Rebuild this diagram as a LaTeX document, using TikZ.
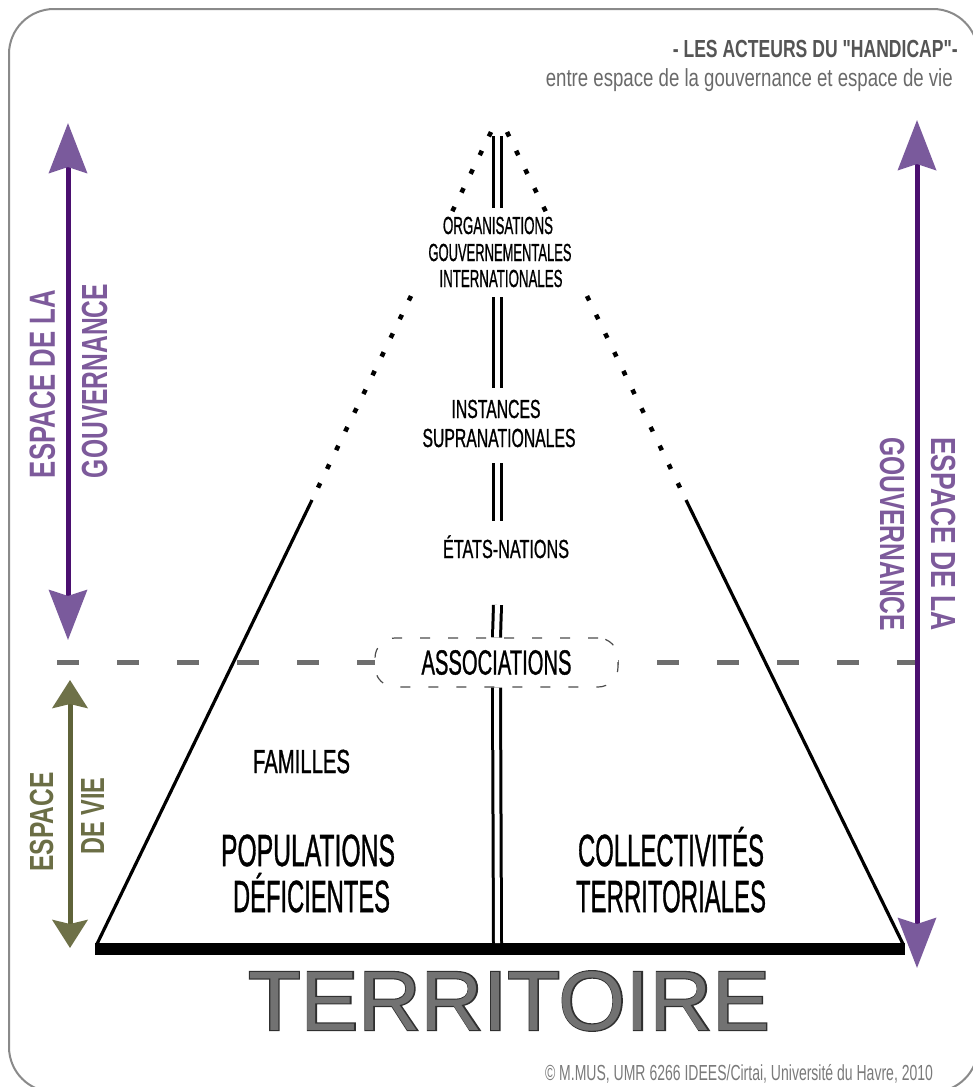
\documentclass[tikz,border=0pt]{standalone}
\usepackage{fontspec}
\usepackage{graphicx}
\setmainfont{Liberation Sans}
\newfontfamily\plainquote{Liberation Sans}[Ligatures=TeXOff]
\newfontfamily\labelfont{Liberation Sans}[FakeBold=1.2]
\newfontfamily\outlinefont{Liberation Sans}[FakeBold=2.6]
\usetikzlibrary{arrows.meta}
\definecolor{purpletext}{HTML}{7D5A9B}
\definecolor{purplehead}{HTML}{7A5A9C}
\definecolor{purpleshaft}{HTML}{4B1070}
\definecolor{olivetext}{HTML}{6B6E45}
\definecolor{olivehead}{HTML}{6E7148}
\definecolor{oliveshaft}{HTML}{5F6339}
\definecolor{framegray}{HTML}{8A8A8A}
\definecolor{dashgray}{HTML}{6E6E6E}
\definecolor{titlegray}{HTML}{555555}
\definecolor{subgray}{HTML}{6A6A6A}
\definecolor{copygray}{HTML}{7A7A7A}
\definecolor{terrgray}{HTML}{727272}
\definecolor{terredge}{HTML}{303030}
\newsavebox\fitA
\newsavebox\fitH
\newcommand\fitcap[3]{\sbox\fitA{#3}\sbox\fitH{H}%
  \pgfmathsetmacro\fitsx{#1/\the\wd\fitA}%
  \pgfmathsetmacro\fitsy{#2/\the\ht\fitH}%
  \scalebox{\fitsx}[\fitsy]{\usebox\fitA}}
\tikzset{
  lbl/.style={inner sep=0pt, anchor=base, text=black, font=\labelfont},
  plainlbl/.style={inner sep=0pt, anchor=base},
  boldlbl/.style={inner sep=0pt, anchor=base, font=\bfseries},
  sidesolid/.style={line width=3.2pt, line cap=butt},
  sidedot/.style={line width=4.5pt, dash pattern=on 5pt off 15.8pt},
  midline/.style={draw=black, line width=3pt, double=white, double distance=5pt},
  hdash/.style={draw=dashgray, line width=5pt, dash pattern=on 22pt off 38pt},
  assoc/.style={draw=black!70, line width=1.2pt, dash pattern=on 10pt off 18pt, fill=white,
    rounded corners=20pt, minimum width=243pt, minimum height=49pt, inner sep=0pt, font=\labelfont},
  govarrow/.style={draw=purpleshaft, line width=5pt,
    >={Stealth[length=50pt,width=38pt,inset=6pt,color=purplehead]}, <->},
  viearrow/.style={draw=oliveshaft, line width=5pt,
    >={Stealth[length=28pt,width=35pt,inset=4pt,color=olivehead]}, <->},
}
\begin{document}
\begin{tikzpicture}[x=1pt,y=-1pt]
\useasboundingbox (0,0) rectangle (973,1087);
\clip (0,0) rectangle (973,1087);
\fill[white] (0,0) rectangle (973,1087);
% frame
\draw[framegray, line width=2pt, rounded corners=45pt] (9,9) rectangle (978,1092);
% title
\node[boldlbl, anchor=base east, text=titlegray, font=\plainquote\bfseries] (title) at (958,57)
  {\fitcap{285}{17}{- LES ACTEURS DU "HANDICAP"-}};
\node[plainlbl, anchor=base east, text=subgray] (subtitle) at (953,86)
  {\fitcap{407}{17}{entre espace de la gouvernance et espace de vie}};
% horizontal dashed boundary
\coordinate (hl) at (57,662);
\coordinate (hr) at (917,662);
\draw[hdash] (hl) -- (hr);
% pyramid
\coordinate (apexL) at (491,132);
\coordinate (gapL1) at (452,212);
\coordinate (gapL2) at (411,296);
\coordinate (apexR) at (507,132);
\coordinate (gapR1) at (546,212);
\coordinate (gapR2) at (587,296);
\coordinate (midL) at (312,500);
\coordinate (midR) at (686,500);
\coordinate (baseL) at (97,944);
\coordinate (baseR) at (903,944);
\draw[sidedot] (apexL) -- (gapL1);
\draw[sidedot] (gapL2) -- (midL);
\draw[sidedot] (apexR) -- (gapR1);
\draw[sidedot] (gapR2) -- (midR);
\draw[sidesolid] (midL) -- (baseL);
\draw[sidesolid] (midR) -- (baseR);
\coordinate (barL) at (95,949);
\coordinate (barR) at (905,949);
\draw[line width=12pt] (barL) -- (barR);
% central double line
\coordinate (a1) at (497.5,136);
\coordinate (a2) at (497.5,208);
\coordinate (b1) at (497.5,297);
\coordinate (b2) at (497.5,388);
\coordinate (c1) at (497.5,463);
\coordinate (c2) at (497.5,521);
\coordinate (d1) at (497.5,605);
\coordinate (e2) at (497.5,943);
\draw[midline] (a1) -- (a2);
\draw[midline] (b1) -- (b2);
\draw[midline] (c1) -- (c2);
\node[assoc] (assoc) at (496.5,662.5) {\fitcap{150}{24}{ASSOCIATIONS}};
\draw[midline] (d1) -- (assoc.north);
\draw[midline] (assoc.south) -- (e2);
% level labels
\node[lbl] (oig1) at (498,234) {\fitcap{110}{17}{ORGANISATIONS}};
\node[lbl] (oig2) at (500,261) {\fitcap{143}{17}{GOUVERNEMENTALES}};
\node[lbl] (oig3) at (501,287) {\fitcap{123}{17}{INTERNATIONALES}};
\node[lbl] (sup1) at (496,418) {\fitcap{89}{18}{INSTANCES}};
\node[lbl] (sup2) at (499,447) {\fitcap{153}{18}{SUPRANATIONALES}};
\node[lbl] (etats) at (506,558) {\fitcap{126}{18}{ÉTATS-NATIONS}};
\node[lbl] (fam) at (301.5,773) {\fitcap{97}{23}{FAMILLES}};
\node[lbl] (pop1) at (308,866) {\fitcap{174}{31}{POPULATIONS}};
\node[lbl] (pop2) at (311.5,912) {\fitcap{157}{31}{DÉFICIENTES}};
\node[lbl] (col1) at (671,866) {\fitcap{186}{31}{COLLECTIVITÉS}};
\node[lbl] (col2) at (671,912) {\fitcap{190}{31}{TERRITORIALES}};
\node[plainlbl, text=terredge, font=\outlinefont] (terrshade) at (509,1030) {\fitcap{522}{58}{TERRITOIRE}};
\node[plainlbl, text=terrgray] (terr) at (509,1030) {\fitcap{522}{58}{TERRITOIRE}};
\node[plainlbl, text=copygray] (copy) at (739,1080)
  {\fitcap{388}{15}{© M.MUS, UMR 6266 IDEES/Cirtai, Université du Havre, 2010}};
% left governance arrow
\coordinate (gLt) at (68,123);
\coordinate (gLb) at (68,640);
\draw[govarrow] (gLt) -- (gLb);
\node[boldlbl, rotate=90, text=purpletext] (gl1) at (55,384) {\fitcap{188}{25}{ESPACE DE LA}};
\node[boldlbl, rotate=90, text=purpletext] (gl2) at (107,381) {\fitcap{194}{25}{GOUVERNANCE}};
% vie arrow
\coordinate (vt) at (70,680);
\coordinate (vb) at (70,948);
\draw[viearrow] (vt) -- (vb);
\node[boldlbl, rotate=90, text=olivetext] (v1) at (53,822) {\fitcap{99}{23}{ESPACE}};
\node[boldlbl, rotate=90, text=olivetext] (v2) at (104,816) {\fitcap{77}{23}{DE VIE}};
% right governance arrow
\coordinate (gRt) at (917,120);
\coordinate (gRb) at (917,968);
\draw[govarrow] (gRt) -- (gRb);
\node[boldlbl, rotate=-90, text=purpletext] (gr1) at (931,534) {\fitcap{194}{24}{ESPACE DE LA}};
\node[boldlbl, rotate=-90, text=purpletext] (gr2) at (880,534) {\fitcap{194}{24}{GOUVERNANCE}};
\end{tikzpicture}
\end{document}
